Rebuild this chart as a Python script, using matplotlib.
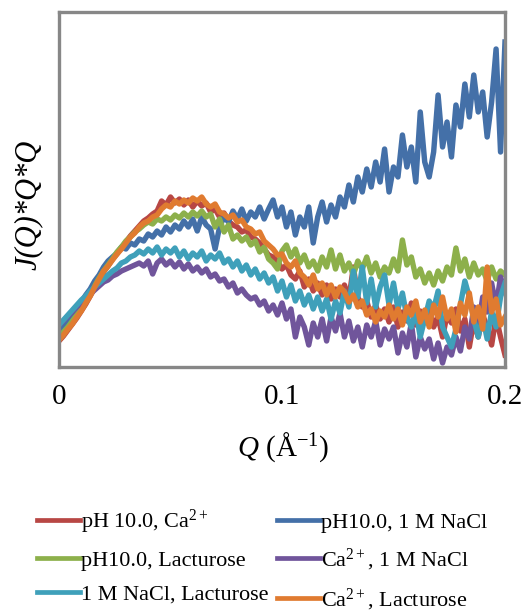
import numpy as np
import matplotlib
matplotlib.use("Agg")
import matplotlib.pyplot as plt

plt.rcParams['font.family'] = ['Liberation Serif', 'DejaVu Serif']
plt.rcParams['mathtext.fontset'] = 'custom'
plt.rcParams['mathtext.rm'] = 'Liberation Serif'
plt.rcParams['mathtext.it'] = 'Liberation Serif:italic'

# Q grid (Å^-1)
Q = np.linspace(0.0, 0.2, 101)

# J(Q)*Q*Q in arbitrary units
red = [26, 31, 37, 43, 49, 56, 63, 71, 79, 87, 95, 101, 108, 113, 119, 125, 131, 136, 141, 146,
       149, 153, 156, 166, 162, 170, 164, 168, 162, 167, 160, 166, 161, 164, 155, 158, 150, 154, 146, 142,
       140, 135, 137, 130, 128, 124, 118, 112, 110, 106, 98, 102, 92, 88, 96, 80, 88, 76, 84, 72,
       82, 68, 78, 70, 82, 68, 100, 70, 60, 66, 50, 62, 48, 58, 45, 60, 40, 55, 46, 64,
       42, 56, 48, 62, 40, 50, 30, 52, 44, 58, 36, 48, 20, 46, 30, 52, 40, 22, 50, 30, 12]
blue = [36, 40, 46, 52, 58, 65, 72, 78, 86, 92, 100, 106, 110, 114, 120, 118, 124, 122, 128, 126,
        133, 130, 136, 132, 140, 135, 142, 138, 146, 140, 148, 136, 150, 142, 138, 118, 140, 150, 145, 156,
        148, 158, 146, 155, 150, 160, 148, 158, 167, 150, 160, 140, 155, 132, 150, 140, 160, 124, 150, 165,
        145, 162, 150, 170, 160, 182, 165, 190, 175, 198, 180, 205, 185, 218, 175, 200, 190, 232, 200, 220,
        185, 255, 205, 190, 215, 272, 220, 245, 210, 262, 240, 283, 250, 292, 255, 275, 230, 265, 318, 215, 325]
green = [30, 35, 40, 46, 52, 59, 66, 73, 81, 89, 96, 102, 108, 115, 120, 126, 130, 135, 138, 142,
         145, 143, 148, 146, 150, 147, 152, 149, 154, 150, 155, 151, 156, 150, 153, 140, 148, 135, 142, 128,
         132, 126, 130, 122, 126, 115, 120, 108, 104, 98, 116, 122, 110, 118, 104, 112, 100, 106, 96, 110,
         100, 117, 98, 112, 96, 104, 92, 106, 98, 110, 94, 104, 90, 100, 94, 108, 96, 127, 102, 110,
         90, 98, 84, 94, 82, 96, 86, 100, 92, 119, 96, 108, 90, 104, 92, 98, 86, 100, 88, 96, 92]
purple = [42, 46, 51, 55, 60, 64, 68, 73, 77, 81, 85, 87, 91, 93, 96, 98, 100, 102, 104, 101,
          106, 93, 104, 108, 102, 106, 100, 105, 98, 103, 96, 100, 94, 98, 90, 93, 86, 88, 80, 84,
          74, 78, 72, 68, 70, 62, 66, 56, 62, 52, 64, 48, 58, 30, 50, 40, 22, 44, 30, 48,
          26, 50, 36, 54, 30, 46, 26, 40, 20, 42, 30, 46, 22, 38, 28, 40, 14, 34, 20, 44,
          10, 30, 18, 28, 8, 24, 4, 20, 12, 30, 16, 40, 28, 60, 40, 70, 55, 84, 60, 90, 75]
cyan = [42, 47, 52, 57, 62, 67, 71, 76, 80, 84, 88, 92, 96, 99, 104, 106, 110, 112, 116, 113,
        118, 114, 120, 112, 118, 114, 119, 110, 116, 108, 114, 110, 116, 106, 112, 108, 114, 104, 108, 100,
        106, 96, 102, 92, 98, 88, 94, 84, 90, 76, 86, 70, 82, 66, 76, 62, 72, 58, 70, 56,
        68, 48, 66, 54, 76, 60, 96, 70, 100, 64, 88, 60, 80, 92, 62, 84, 58, 74, 50, 40,
        56, 30, 48, 66, 58, 76, 40, 30, 20, 38, 62, 86, 70, 48, 30, 50, 28, 56, 40, 70, 84]
orange = [27, 32, 38, 43, 50, 56, 64, 71, 80, 88, 96, 101, 107, 113, 118, 124, 130, 134, 140, 144,
          146, 150, 152, 158, 162, 160, 166, 163, 167, 164, 169, 166, 170, 163, 160, 163, 155, 153, 149, 152,
          145, 147, 140, 138, 133, 135, 126, 122, 118, 112, 113, 104, 100, 106, 94, 90, 82, 92, 78, 84,
          72, 82, 70, 80, 75, 65, 72, 60, 66, 52, 58, 45, 56, 50, 62, 48, 58, 42, 60, 52,
          66, 45, 57, 40, 62, 50, 70, 48, 58, 35, 64, 52, 74, 45, 60, 38, 100, 55, 68, 42, 50]

labels = ['pH 10.0, Ca$^{2+}$', 'pH10.0, 1 M NaCl', 'pH10.0, Lacturose',
          'Ca$^{2+}$, 1 M NaCl', '1 M NaCl, Lacturose', 'Ca$^{2+}$, Lacturose']
colors = ['#B84744', '#4470A8', '#8DB04B', '#70559B', '#3FA0BA', '#E07B30']
series = [red, blue, green, purple, cyan, orange]

W, H = 528, 613
fig = plt.figure(figsize=(W / 100, H / 100), dpi=100)
ax = fig.add_axes([59 / W, 1 - 367 / H, (505 - 59) / W, (367 - 12) / H])

handles = []
for ys, c, lab in zip(series, colors, labels):
    h, = ax.plot(Q, ys, color=c, lw=3.9, label=lab, solid_joinstyle='round')
    handles.append(h)

ax.set_xlim(0, 0.2)
ax.set_ylim(0, 355)
ax.set_xticks([0, 0.1, 0.2])
ax.set_xticklabels(['0', '0.1', '0.2'])
ax.set_yticks([])
ax.tick_params(axis='x', length=0, pad=12, labelsize=21)
for s in ax.spines.values():
    s.set_color('#878787')
    s.set_linewidth(2.4)

fig.text(283 / W, 1 - 447 / H, '$Q$ (Å$^{-1}$)', ha='center', va='center', fontsize=21)
fig.text(28 / W, 1 - 205 / H, 'J(Q)*Q*Q', ha='center', va='center', rotation=90,
         fontsize=22, fontstyle='italic')

order = [0, 2, 4, 1, 3, 5]
leg = fig.legend([handles[i] for i in order], [labels[i] for i in order],
                 loc='upper left', bbox_to_anchor=(37 / W, 1 - 508 / H), ncol=2,
                 frameon=False, fontsize=16, handlelength=1.95, handletextpad=0.05,
                 columnspacing=0.35, labelspacing=0.62, borderpad=0, borderaxespad=0)
for lh in leg.get_lines():
    lh.set_linewidth(3.4)

fig.savefig('out.png', dpi=100)
